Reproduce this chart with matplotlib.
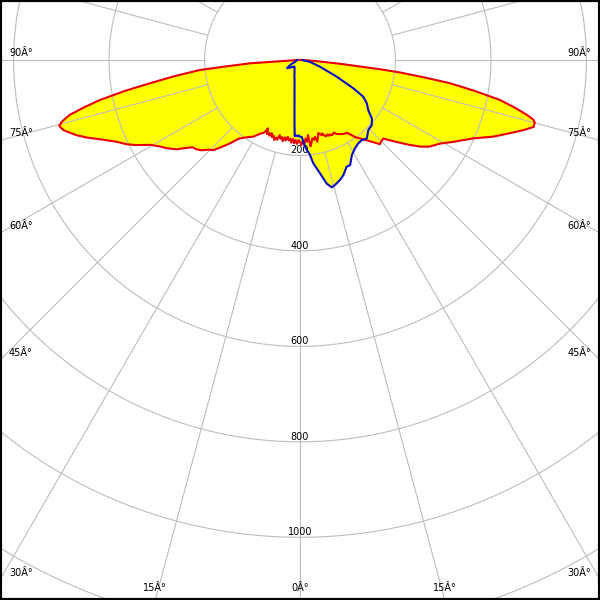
import numpy as np
import matplotlib
matplotlib.use("Agg")
import matplotlib.pyplot as plt
from matplotlib.patches import Rectangle

# Plano C0-C180 (rojo): angulo gamma (negativo = izquierda) y cd/klm
red_angles = [-90, -87, -86.6, -86.2, -85, -84.3, -82.7, -81.2, -80, -78.7, -77.7, -76.6,
              -75.5, -74.7, -73.5, -71.4, -70, -68.4, -66, -64, -62.5, -60.5, -58.5,
              -56.5, -54.1, -52.5, -50.9, -49.4, -47.5, -45.5, -43.9, -42, -40, -38.5,
              -37.5, -35, -33, -31.3, -29.5, -28,
              -27, -26, -25, -24, -23, -22, -21, -20, -19, -18, -17, -16, -15, -14,
              -13, -12, -11, -10, -9, -8, -7, -6, -5, -4, -3, -2, -1, 0,
              1, 2, 3, 4, 5, 6, 7, 8, 9, 10, 11, 12, 13, 14, 15, 16, 17, 18, 19,
              20, 21, 22, 23, 24, 25, 26, 27,
              28, 30, 33, 35.8, 37.5, 39, 41.3, 43.5, 45, 46.7, 49.3, 52.1, 54.2, 56,
              59.2, 61.9, 65.7, 68.4, 70.8, 72.6, 74, 75.1, 75.7, 76.4, 77.5, 78.7,
              79.95, 81.2, 82, 82.9, 83.4, 83.8, 84.6, 85.7, 87, 90]
red_values = [5, 22, 52, 105, 158, 211, 264, 318, 372, 427, 461, 496,
              515, 523, 517, 494, 475, 451, 421, 403, 386, 361, 346,
              335, 319, 303, 290, 287, 280, 268, 262, 245, 228, 214,
              207, 198, 192, 188, 180, 174,
              172, 168, 158, 170, 166, 171, 164, 172, 168, 176, 170, 174, 163, 170,
              166, 174, 165, 171, 163, 170, 166, 174, 166, 175, 168, 176, 168, 172,
              178, 170, 176, 165, 172, 158, 182, 174, 166, 170, 164, 175, 166, 158,
              160, 164, 161, 167, 169, 166, 170, 168, 171, 170, 168, 172, 174,
              176, 179, 182, 200, 207, 215, 228, 243, 241, 240, 262, 289, 310, 325,
              342, 364, 399, 436, 466, 491, 509, 509, 504, 489, 461, 427,
              372, 318, 264, 211, 169, 126, 84, 42, 20, 0]

# Plano C90-C270 (azul)
blue_angles = [-90, -80, -71, -63, -58, -50, -45, -40, -35, -30, -25, -20, -15, -12.5,
               -10, -7.5, -5, -4, -3, -2, -1, 0, 1.3, 3.3, 6, 7.3, 10, 12.2, 14, 15.6,
               18.4, 20.6, 23.6, 25.5, 28.6, 31.9, 35, 37.6, 40.4, 44.3, 47.8, 50.9,
               53.8, 57, 58.4, 59.9, 62, 65.5, 71.5, 80, 90]
blue_values = [5, 8, 11, 23, 32, 24, 20, 18, 20, 23, 27, 34, 44, 53,
               66, 88, 132, 160, 158, 160, 158, 161, 161, 182, 200, 218, 241, 265, 275, 272,
               265, 258, 244, 244, 227, 218, 213, 212, 216, 205, 203, 194,
               177, 167, 160, 153, 127, 85, 44, 20, 5]

ring_values = [200, 400, 600, 800, 1000, 1200]
ring_labels = ['200', '400', '600', '800', '1000']
angle_ticks = [0, 15, 30, 45, 60, 75, 90]

# centro del diagrama en pixeles y escala (px por cd)
CX, CY = 300, 60
SCALE = 0.4773
RMAX = 1400

fig = plt.figure(figsize=(6, 6), dpi=100)
half = RMAX * SCALE / 600
ax = fig.add_axes([CX / 600 - half, 1 - CY / 600 - half, 2 * half, 2 * half],
                  projection='polar')
ax.set_theta_zero_location('S')
ax.set_theta_direction(1)
ax.set_rlim(0, RMAX)
ax.grid(False)
ax.set_xticks([])
ax.set_yticks([])
ax.spines['polar'].set_visible(False)
ax.patch.set_alpha(0)

grid_col = '#bdbdbd'
# anillos
t = np.linspace(0, 2 * np.pi, 721)
for r in ring_values:
    ax.plot(t, np.full_like(t, r), color=grid_col, lw=0.8, zorder=2)
for lab in ring_labels:
    ax.text(0, float(lab), lab, ha='center', va='bottom', fontsize=7, zorder=3)
# radios cada 15 grados, desde el anillo de 200
for a in range(0, 360, 15):
    th = np.radians(a)
    ax.plot([th, th], [ring_values[0], RMAX], color=grid_col, lw=0.8, zorder=2)

# curvas
rt = np.radians(red_angles)
bt = np.radians(blue_angles)
ax.fill(rt, red_values, color='#FFFF00', zorder=1, lw=0)
ax.fill(bt, blue_values, color='#FFFF00', zorder=1, lw=0)
ax.plot(rt, red_values, color='#E80000', lw=1.5, zorder=4)
ax.plot(bt, blue_values, color='#0A0ACC', lw=1.5, zorder=5)

# etiquetas de angulo en el borde de la imagen
for a in angle_ticks:
    sides = [1] if a == 0 else [-1, 1]
    for s in sides:
        dx = s * np.sin(np.radians(a))
        dy = np.cos(np.radians(a))
        tx = 300 / abs(dx) if abs(dx) > 1e-9 else np.inf
        ty = (600 - CY) / dy if dy > 1e-9 else np.inf
        txt = '%dÂ°' % a
        if tx < ty:
            y = CY + tx * dy - 7
            if s < 0:
                fig.text(9 / 600, 1 - y / 600, txt, ha='left', va='center', fontsize=7)
            else:
                fig.text(591 / 600, 1 - y / 600, txt, ha='right', va='center', fontsize=7)
        else:
            x = CX + ty * dx
            fig.text(x / 600, 1 - 588 / 600, txt, ha='center', va='center', fontsize=7)

# marco negro
fig.patches.append(Rectangle((0, 0), 1, 1, transform=fig.transFigure, fill=False,
                             edgecolor='black', lw=3, zorder=10))

fig.savefig('out.png', dpi=100)
